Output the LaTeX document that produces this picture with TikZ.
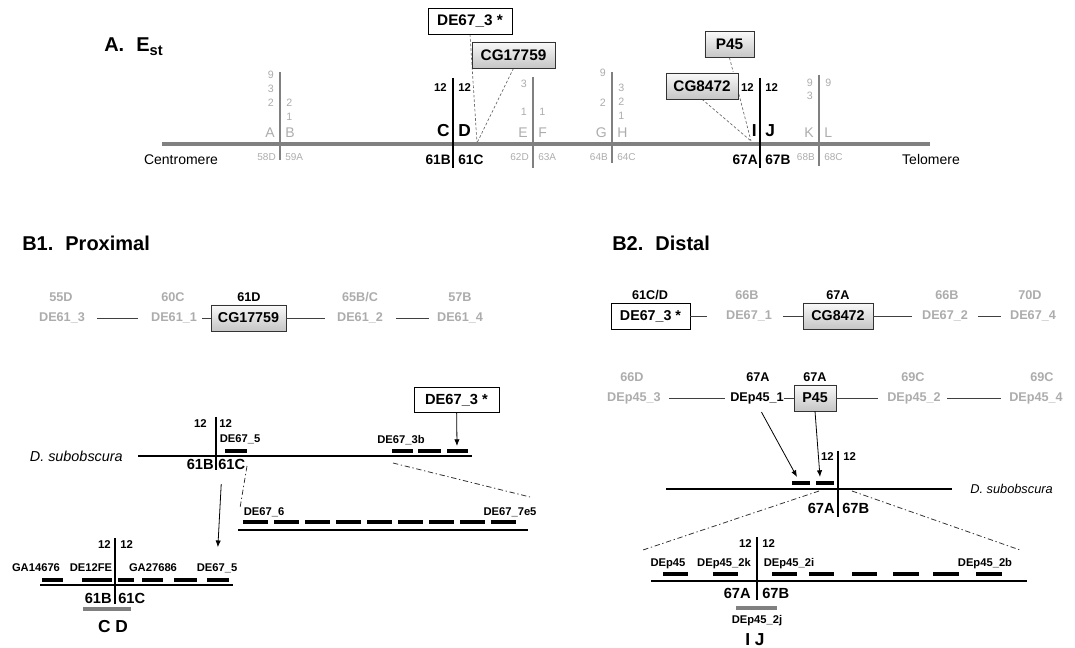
\documentclass[tikz,border=0pt]{standalone}
\usepackage{fontspec}
\setmainfont{Liberation Sans}
\usepackage{xcolor}
\usepackage{tikz}
\usetikzlibrary{arrows.meta,positioning,calc}
\pgfdeclarelayer{background}
\pgfsetlayers{background,main}

\definecolor{chromgray}{RGB}{128,128,128}
\definecolor{lightlab}{RGB}{172,172,172}
\newcommand{\fsz}[1]{\fontsize{#1}{#1}\selectfont}

\begin{document}
\begin{tikzpicture}[
    x=0.75pt, y=-0.75pt,
    every node/.style={inner sep=0pt},
    heading/.style={font=\fsz{15}\bfseries, anchor=west},
    chrom/.style={line width=3.6pt, chromgray},
    breakgray/.style={line width=2.2pt, chromgray},
    breakdark/.style={line width=2.2pt, black},
    insetbreak/.style={line width=1.9pt, black},
    numgray/.style={font=\fsz{8}, text=lightlab},
    letgray/.style={font=\fsz{10.5}, text=lightlab},
    bandgray/.style={font=\fsz{7.5}, text=lightlab},
    numdark/.style={font=\fsz{8.5}\bfseries},
    letdark/.style={font=\fsz{13}\bfseries},
    banddark/.style={font=\fsz{10.3}\bfseries},
    bandinset/.style={font=\fsz{11}\bfseries},
    genebox/.style={draw=black!80, top color=gray!5, bottom color=gray!45, font=\fsz{11.5}\bfseries, minimum height=19.5pt},
    plainbox/.style={draw=black, fill=white, font=\fsz{11.5}\bfseries, minimum height=19.5pt},
    hint/.style={dash pattern=on 2pt off 1.5pt, black!60, line width=0.5pt},
    probe/.style={font=\fsz{9.5}\bfseries, text=lightlab},
    probedark/.style={font=\fsz{9.5}\bfseries},
    link/.style={black!75, line width=0.7pt},
    seq/.style={line width=1.1pt},
    seqlow/.style={line width=1.5pt},
    frag/.style={line width=2.6pt},
    tag/.style={font=\fsz{8.4}\bfseries},
    species/.style={font=\fsz{10}\itshape},
    zoomline/.style={black!80, line width=0.6pt, dash pattern=on 4pt off 2pt on 1pt off 2pt},
    pointer/.style={-{Latex[length=5pt,width=4pt]}, line width=0.6pt}
]
    \useasboundingbox (0,0) rectangle (1075,648);

    % ---- A. E_st ----
    \node[heading] (headA) at (104,47) {A.\hspace{0.6em}E\raisebox{-3pt}{\fsz{11}st}};
    \coordinate (cen) at (162,144);
    \coordinate (tel) at (930,144);
    \draw[chrom] (cen) -- (tel);
    \node[font=\fsz{10.5}] (centro) at (181,160) {Centromere};
    \node[font=\fsz{10.5}] (telo) at (931,160) {Telomere};

    \foreach \bx/\ya/\yb/\ltr/\rtr/\lbd/\rbd in {280/72/160/A/B/58D/59A, 533/77/168/E/F/62D/63A, 612/72/163/G/H/64B/64C, 819/75/166/K/L/68B/68C}{
        \draw[breakgray] (\bx,\ya) -- (\bx,\yb);
        \node[letgray, anchor=east] (ll\bx) at (\bx-5,133) {\ltr};
        \node[letgray, anchor=west] (lr\bx) at (\bx+5,133) {\rtr};
        \node[bandgray, anchor=east] (bl\bx) at (\bx-4,157) {\lbd};
        \node[bandgray, anchor=west] (br\bx) at (\bx+5,157) {\rbd};
    }
    \foreach \bx/\yy/\nm in {280/75/9, 280/89/3, 280/103/2, 533/84/3, 533/112/1, 612/73/9, 612/103/2, 819/83/9, 819/96/3}
        \node[numgray, anchor=east] (nl\bx-\yy) at (\bx-6,\yy) {\nm};
    \foreach \bx/\yy/\nm in {280/103/2, 280/117/1, 533/112/1, 612/88/3, 612/102/2, 612/116/1, 819/83/9}
        \node[numgray, anchor=west] (nr\bx-\yy) at (\bx+6,\yy) {\nm};

    \foreach \bx/\ltr/\rtr/\lbd/\rbd in {453/C/D/61B/61C, 760/I/J/67A/67B}{
        \draw[breakdark] (\bx,78) -- (\bx,168);
        \node[numdark, anchor=east] (tl\bx) at (\bx-6,88) {12};
        \node[numdark, anchor=west] (tr\bx) at (\bx+5,88) {12};
        \node[letdark, anchor=east] (cl\bx) at (\bx-3,131) {\ltr};
        \node[letdark, anchor=west] (cr\bx) at (\bx+5,131) {\rtr};
        \node[banddark, anchor=east] (dl\bx) at (\bx-2,160) {\lbd};
        \node[banddark, anchor=west] (dr\bx) at (\bx+5,160) {\rbd};
    }

    \node[plainbox, minimum width=63pt] (deA) at (470,21) {DE67\_3 *};
    \node[genebox, minimum width=62pt] (cgA) at (513.5,55) {CG17759};
    \node[genebox, minimum width=54pt] (cg84A) at (702,86) {CG8472};
    \node[genebox, minimum width=37pt] (p45A) at (729.5,44.5) {P45};
    \coordinate (hitCD) at (477,143);
    \coordinate (hitIJ) at (751,141);
    \begin{pgfonlayer}{background}
        \draw[hint] (deA.south) -- (hitCD);
        \draw[hint] (cgA.south) -- (hitCD);
        \draw[hint] (cg84A.south) -- (hitIJ);
        \draw[hint] (p45A.south) -- (hitIJ);
    \end{pgfonlayer}

    % ---- B1. Proximal ----
    \node[heading] (headB1) at (22,243) {B1.\hspace{0.6em}Proximal};
    \node[probe] (de613) at (62,318) {DE61\_3};
    \node[probe] (de611) at (174,318) {DE61\_1};
    \node[genebox, font=\fsz{10.7}\bfseries, minimum width=56pt] (cgB1) at (248.5,318) {CG17759};
    \node[probe] (de612) at (360,318) {DE61\_2};
    \node[probe] (de614) at (460,318) {DE61\_4};
    \node[probe] (loc613) at (61,297) {55D};
    \node[probe] (loc611) at (173,297) {60C};
    \node[probedark] (locB1) at (249,297) {61D};
    \node[probe] (loc612) at (360,297) {65B/C};
    \node[probe] (loc614) at (460,297) {57B};
    \draw[link, shorten <=9pt, shorten >=9.5pt] (de613) -- (de611);
    \draw[link, shorten <=3.75pt] (de611) -- (cgB1);
    \draw[link, shorten >=9pt] (cgB1) -- (de612);
    \draw[link, shorten <=9.75pt, shorten >=6pt] (de612) -- (de614);

    \node[plainbox, font=\fsz{11}\bfseries, minimum width=63.75pt, minimum height=18.75pt] (deB1) at (456.5,400) {DE67\_3 *};
    \coordinate (tip3b) at (457,446);
    \draw[pointer] (deB1) -- (tip3b);

    \node[species, font=\fsz{10.8}\itshape, anchor=east] (subB1) at (123,456) {D. subobscura};
    \draw[seq] (138,456) -- (472,456);
    \draw[insetbreak] (216,417) -- (216,470);
    \node[numdark, anchor=east] (t1l) at (207,424) {12};
    \node[numdark, anchor=west] (t1r) at (219,424) {12};
    \node[tag] (de675a) at (240,439) {DE67\_5};
    \draw[frag] (225,451) -- (247,451);
    \node[bandinset, anchor=east] (b61B) at (214,464) {61B};
    \node[bandinset, anchor=west] (b61C) at (218,464) {61C};
    \node[tag] (de673b) at (401,440) {DE67\_3b};
    \foreach \xa/\xb in {392/413, 418/441, 447/468}
        \draw[frag] (\xa,451) -- (\xb,451);
    \draw[zoomline] (393,463) -- (530,497);
    \draw[zoomline] (247,466) -- (240,508);

    \draw[seqlow] (238,530) -- (528,530);
    \foreach \i in {0,...,8}
        \draw[frag] (243+31*\i,522) -- (268+31*\i,522);
    \node[tag] (de676) at (264,512) {DE67\_6};
    \node[tag] (de677) at (510,512) {DE67\_7e5};

    \draw[insetbreak] (115,538) -- (115,604);
    \node[numdark, anchor=east] (t2l) at (111,545) {12};
    \node[numdark, anchor=west] (t2r) at (120,545) {12};
    \node[tag] (ga146) at (36,568) {GA14676};
    \node[tag] (de12) at (91,568) {DE12FE};
    \node[tag] (ga276) at (153,568) {GA27686};
    \node[tag] (de675b) at (217,568) {DE67\_5};
    \foreach \xa/\xb in {42/63, 82/112, 118/134, 142/163, 174/197, 207/229}
        \draw[frag] (\xa,580) -- (\xb,580);
    \draw[seqlow] (40,585) -- (233,585);
    \node[bandinset, anchor=east] (c61B) at (112,598) {61B};
    \node[bandinset, anchor=west] (c61C) at (118,598) {61C};
    \draw[line width=2.3pt, chromgray] (83,609) -- (131,609);
    \node[letdark] (cdB1) at (113,627) {C D};
    \draw[pointer, shorten <=11pt, shorten >=12pt] ([xshift=3pt]b61C.south west) -- (de675b.north);

    % ---- B2. Distal ----
    \node[heading] (headB2) at (612,243) {B2.\hspace{0.6em}Distal};
    \node[plainbox, font=\fsz{10.7}\bfseries, minimum width=59pt] (deB2) at (650.5,316) {DE67\_3 *};
    \node[probe] (de671) at (749,316) {DE67\_1};
    \node[genebox, font=\fsz{10.7}\bfseries, minimum width=52.5pt] (cgB2) at (838,316) {CG8472};
    \node[probe] (de672) at (945,316) {DE67\_2};
    \node[probe] (de674) at (1033,316) {DE67\_4};
    \node[probedark] (locde3) at (650,295) {61C/D};
    \node[probe] (loc671) at (747,295) {66B};
    \node[probedark] (loccg) at (838,295) {67A};
    \node[probe] (loc672) at (947,295) {66B};
    \node[probe] (loc674) at (1030,295) {70D};
    \draw[link, shorten >=14pt] (deB2) -- (de671);
    \draw[link, shorten <=8pt] (de671) -- (cgB2);
    \draw[link, shorten >=7.5pt] (cgB2) -- (de672);
    \draw[link, shorten <=7.5pt, shorten >=6.75pt] (de672) -- (de674);

    \node[probe] (dp453) at (634,398) {DEp45\_3};
    \node[probedark] (dp451) at (757,398) {DEp45\_1};
    \node[genebox, font=\fsz{10.7}\bfseries, minimum width=31.5pt] (p45B2) at (815,398) {P45};
    \node[probe] (dp452) at (914,398) {DEp45\_2};
    \node[probe] (dp454) at (1036,398) {DEp45\_4};
    \node[probe] (locp3) at (632,377) {66D};
    \node[probedark] (locp1) at (758,377) {67A};
    \node[probedark] (locp45) at (815,377) {67A};
    \node[probe] (locp2) at (913,377) {69C};
    \node[probe] (locp4) at (1042,377) {69C};
    \draw[link, shorten <=6pt, shorten >=3.75pt] (dp453) -- (dp451);
    \draw[link] (dp451) -- (p45B2);
    \draw[link, shorten >=6.75pt] (p45B2) -- (dp452);
    \draw[link, shorten <=4.5pt, shorten >=6pt] (dp452) -- (dp454);

    \coordinate (tipA) at (797,477);
    \coordinate (tipB) at (820,477);
    \draw[pointer, shorten <=7pt] (dp451.south) -- (tipA);
    \draw[pointer] (p45B2.south) -- (tipB);

    \foreach \xa/\xb in {792/810, 816/834}
        \draw[frag] (\xa,483) -- (\xb,483);
    \draw[insetbreak] (838,451) -- (838,517);
    \node[numdark, anchor=east] (t3l) at (834,457) {12};
    \node[numdark, anchor=west] (t3r) at (843,457) {12};
    \draw[seq] (666,489) -- (952,489);
    \node[species, font=\fsz{9.6}\itshape, anchor=west] (subB2) at (970,489) {D. subobscura};
    \node[bandinset, anchor=east] (d67A) at (835,508) {67A};
    \node[bandinset, anchor=west] (d67B) at (842,508) {67B};
    \draw[zoomline] (819,491) -- (643,550);
    \draw[zoomline] (852,491) -- (1020,550);

    \draw[insetbreak] (757,537) -- (757,600);
    \node[numdark, anchor=east] (t4l) at (752,544) {12};
    \node[numdark, anchor=west] (t4r) at (762,544) {12};
    \node[tag] (dp45) at (668,564) {DEp45};
    \node[tag] (dp2k) at (724,564) {DEp45\_2k};
    \node[tag] (dp2i) at (789,564) {DEp45\_2i};
    \node[tag] (dp2b) at (985,564) {DEp45\_2b};
    \foreach \xa/\xb in {663/688, 713/738, 772/797, 809/834, 852/877, 893/919, 933/959, 976/1002}
        \draw[frag] (\xa,574) -- (\xb,574);
    \draw[seqlow] (651,581) -- (1027,581);
    \node[bandinset, anchor=east] (e67A) at (751,593) {67A};
    \node[bandinset, anchor=west] (e67B) at (762,593) {67B};
    \draw[line width=2.3pt, chromgray] (736,608) -- (777,608);
    \node[tag] (dp2j) at (757,621) {DEp45\_2j};
    \node[letdark] (ijB2) at (755,640) {I J};
\end{tikzpicture}
\end{document}
